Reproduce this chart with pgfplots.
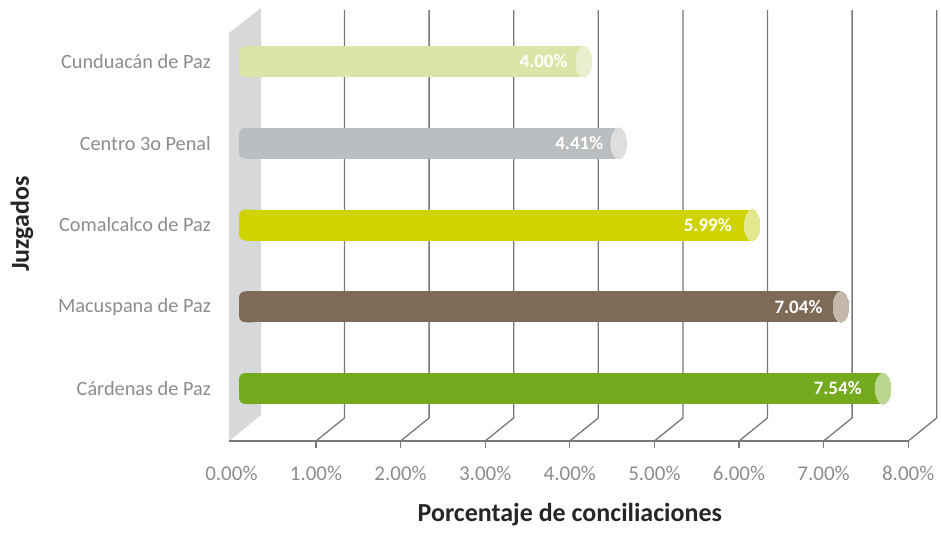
\documentclass[border=0pt]{standalone}
\usepackage{pgfplots}
\pgfplotsset{compat=1.18}
\usepackage{fontspec}
\setmainfont{Carlito}
\definecolor{gridc}{HTML}{77787B}
\definecolor{wallc}{HTML}{D6D8DA}
\definecolor{labc}{HTML}{8A8C8E}
\definecolor{a1}{HTML}{DCE5A8}\definecolor{a2}{HTML}{E9EFCF}
\definecolor{b1}{HTML}{BBBEC0}\definecolor{b2}{HTML}{DDDEE0}
\definecolor{c1}{HTML}{CFD400}\definecolor{c2}{HTML}{E3E88F}
\definecolor{d1}{HTML}{7D6B58}\definecolor{d2}{HTML}{C3B8AA}
\definecolor{e1}{HTML}{74AA1E}\definecolor{e2}{HTML}{BDD68F}
\pgfdeclareplotmark{roundstart}{%
  \pgfpathmoveto{\pgfpoint{7pt}{-15.5pt}}%
  \pgfpathlineto{\pgfpoint{0pt}{-15.5pt}}%
  \pgfpathcurveto{\pgfpoint{-4.5pt}{-15.5pt}}{\pgfpoint{-7pt}{-13pt}}{\pgfpoint{-7pt}{-8.5pt}}%
  \pgfpathlineto{\pgfpoint{-7pt}{8.5pt}}%
  \pgfpathcurveto{\pgfpoint{-7pt}{13pt}}{\pgfpoint{-4.5pt}{15.5pt}}{\pgfpoint{0pt}{15.5pt}}%
  \pgfpathlineto{\pgfpoint{7pt}{15.5pt}}%
  \pgfpathclose
  \pgfusepathqfill}
\newcommand{\onebar}[5]{%
  \addplot[only marks,mark=roundstart,mark options={fill=#3,draw=#3,line width=0pt},forget plot] coordinates {(0,#1)};
  \addplot[xbar,bar shift=0pt,bar width=31pt,fill=#3,draw=none,forget plot,point meta=x,
    nodes near coords={\pgfmathprintnumber[fixed,fixed zerofill,precision=2,assume math mode=true]{\pgfplotspointmeta}\%},
    every node near coord/.append style={anchor=east,xshift=#5pt,yshift=0pt,text=white,font=\fontsize{19}{19}\selectfont\bfseries}]
    coordinates {(#2,#1)};
  \addplot[only marks,mark=*,mark size=15.5pt,mark options={xscale=0.5,fill=#4,draw=#4,line width=0pt},forget plot] coordinates {(#2,#1)};
}
\begin{document}
\begin{tikzpicture}[x=1pt,y=1pt]
\useasboundingbox (0,0) rectangle (941,536);
\begin{axis}[
  at={(231.4pt,95pt)},anchor=south west,scale only axis,width=676.8pt,height=408pt,
  xmin=0,xmax=8,ymin=-0.6422,ymax=4.349,clip=false,
  axis x line=bottom,axis y line=left,
  x axis line style={draw=gridc,line width=1.2pt,-},
  y axis line style={draw=none},
  xtick={1,2,3,4,5,6,7,8},
  xticklabels={1.00\%,2.00\%,3.00\%,4.00\%,5.00\%,6.00\%,7.00\%,8.00\%},
  extra x ticks={0},extra x tick labels={0.00\%},
  extra x tick style={xtick style={draw=none}},
  ytick={0,1,2,3,4},
  yticklabels={Cárdenas de Paz,Macuspana de Paz,Comalcalco de Paz,Centro 3o Penal,Cunduacán de Paz},
  xtick style={draw=gridc,line width=1.1pt},
  ytick style={draw=none},
  tick align=outside,major tick length=7pt,
  xticklabel style={text=labc,font=\fontsize{21}{21}\selectfont,yshift=-15pt},
  yticklabel style={text=labc,font=\fontsize{20.3}{20.3}\selectfont,xshift=-10pt},
  xlabel={Porcentaje de conciliaciones},
  ylabel={Juzgados},
  label style={font=\fontsize{26}{26}\selectfont\bfseries,text=black!85},
  xlabel style={at={(0.5,0)},anchor=center,yshift=-74pt},
  ylabel style={at={(axis description cs:-0.3094,0.532)},anchor=center},
]
\addplot[fill=wallc,draw=none,forget plot] coordinates {(-0.028,-0.6422) (-0.028,4.349) (0.35,4.654) (0.35,-0.324)} -- cycle;
\addplot[gridc,line width=1.2pt,forget plot] coordinates {(-0.03,-0.6422) (0,-0.6422)};
\addplot[gridc,line width=1.3pt,forget plot] coordinates {(1,-0.6422) (1.337,-0.36) (1.337,4.63)};
\addplot[gridc,line width=1.3pt,forget plot] coordinates {(2,-0.6422) (2.337,-0.36) (2.337,4.63)};
\addplot[gridc,line width=1.3pt,forget plot] coordinates {(3,-0.6422) (3.337,-0.36) (3.337,4.63)};
\addplot[gridc,line width=1.3pt,forget plot] coordinates {(4,-0.6422) (4.337,-0.36) (4.337,4.63)};
\addplot[gridc,line width=1.3pt,forget plot] coordinates {(5,-0.6422) (5.337,-0.36) (5.337,4.63)};
\addplot[gridc,line width=1.3pt,forget plot] coordinates {(6,-0.6422) (6.337,-0.36) (6.337,4.63)};
\addplot[gridc,line width=1.3pt,forget plot] coordinates {(7,-0.6422) (7.337,-0.36) (7.337,4.63)};
\addplot[gridc,line width=1.3pt,forget plot] coordinates {(8,-0.6422) (8.337,-0.36) (8.337,4.63)};
\end{axis}
\begin{axis}[
  at={(246pt,95pt)},anchor=south west,scale only axis,width=676pt,height=408pt,
  xmin=0,xmax=8,ymin=-0.6422,ymax=4.349,clip=false,hide axis,
]
\onebar{4}{4.00}{a1}{a2}{-13}
\onebar{3}{4.41}{b1}{b2}{-12}
\onebar{2}{5.99}{c1}{c2}{-17}
\onebar{1}{7.04}{d1}{d2}{-15}
\onebar{0}{7.54}{e1}{e2}{-18}
\end{axis}
\end{tikzpicture}
\end{document}
